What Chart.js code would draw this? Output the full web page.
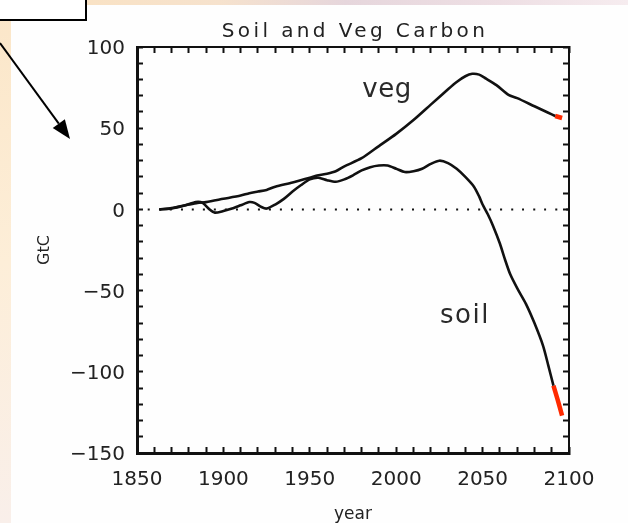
<!DOCTYPE html>
<html>
<head>
<meta charset="utf-8">
<script src="https://cdn.jsdelivr.net/npm/chart.js@4/dist/chart.umd.min.js"></script>
<style>
  html, body { margin: 0; padding: 0; background: #fefefe; }
  #wrap { width: 628px; height: 523px; position: relative; overflow: hidden; }
  canvas { display: block; }
</style>
</head>
<body>
<div id="wrap"><canvas id="c" width="628" height="523"></canvas></div>
<script>
// Cumulative carbon change (GtC) relative to pre-industrial
const vegYears  = [1863, 1870, 1880, 1885, 1890, 1900, 1910, 1915, 1920, 1925, 1930, 1940, 1950, 1955, 1960,
                   1965, 1970, 1980, 1990, 2000, 2010, 2020, 2030, 2035, 2040, 2044, 2048, 2052, 2058, 2065,
                   2070, 2080, 2088, 2092];
const vegValues = [0, 0.8, 3, 4, 4.5, 6.5, 8.5, 10, 11, 12, 14, 16.5, 19.5, 21, 22,
                   23.5, 26.5, 31.5, 39, 46.5, 55, 64.5, 74, 78.5, 82, 83.5, 83, 80.5, 76.5, 70.5,
                   68.5, 63.5, 59.5, 57.5];
const vegTailYears  = [2092, 2096];
const vegTailValues = [57.5, 56.3];

const soilYears  = [1863, 1870, 1878, 1884, 1888, 1892, 1895, 1900, 1905, 1910, 1915, 1918, 1922, 1925, 1930,
                    1935, 1940, 1945, 1950, 1955, 1960, 1965, 1970, 1975, 1980, 1985, 1990, 1995, 2000, 2005,
                    2010, 2015, 2020, 2025, 2030, 2035, 2040, 2045, 2048, 2050, 2053, 2056, 2060, 2063, 2066,
                    2070, 2075, 2080, 2085, 2088, 2091];
const soilValues = [0, 0.5, 2.5, 4.5, 4, 0, -2, -1, 0.5, 2.5, 4.5, 4, 1.5, 0.5, 3,
                    6.5, 11, 15, 18.5, 19.5, 18, 17, 18.5, 21, 24, 26, 27, 27, 25, 23,
                    23.5, 25, 28, 30, 28.5, 25, 20, 14, 8, 3, -3, -10, -21, -31, -40,
                    -48.5, -58, -70, -84, -96, -108.5];
const soilTailYears  = [2091, 2093.5, 2096];
const soilTailValues = [-108.5, -117.5, -127];

const zeroYears  = [1850, 2100];
const zeroValues = [0, 0];

const yearLabels = [1850, 1900, 1950, 2000, 2050, 2100];
const gtcLabels  = [-150, -100, -50, 0, 50, 100];

const titleText = 'Soil and Veg Carbon';
const vegLabel  = { text: 'veg',  year: 1994.7, value: 73.6 };
const soilLabel = { text: 'soil', year: 2039.8, value: -66 };

const pts = (xs, ys) => xs.map((x, i) => ({ x, y: ys[i] }));
const INK = '#111';
const RED = '#ff2a00';
const FONT = '"DejaVu Sans", "Liberation Sans", sans-serif';

const decor = {
  id: 'decor',
  beforeDraw(chart) {
    const ctx = chart.ctx;
    ctx.save();
    ctx.fillStyle = '#fefefe';
    ctx.fillRect(0, 0, 628, 523);
    // warm strip along the left edge
    let g = ctx.createLinearGradient(0, 0, 0, 523);
    g.addColorStop(0, '#fbe6c8');
    g.addColorStop(0.5, '#fdeed8');
    g.addColorStop(1, '#f9efea');
    ctx.fillStyle = g;
    ctx.fillRect(0, 0, 11, 523);
    // tinted strip along the top edge
    g = ctx.createLinearGradient(0, 0, 628, 0);
    g.addColorStop(0, '#fbe2bf');
    g.addColorStop(0.35, '#f6e2cd');
    g.addColorStop(0.55, '#e6d6dc');
    g.addColorStop(0.8, '#eedfe4');
    g.addColorStop(1, '#f6ecef');
    ctx.fillStyle = g;
    ctx.fillRect(0, 0, 628, 5);
    ctx.restore();
  },
  afterDraw(chart) {
    const ctx = chart.ctx;
    const { x, y } = chart.scales;
    const area = chart.chartArea;
    ctx.save();
    // title
    ctx.fillStyle = '#222';
    ctx.font = '20px ' + FONT;
    ctx.textAlign = 'center';
    ctx.textBaseline = 'middle';
    ctx.letterSpacing = '3.4px';
    ctx.fillText(titleText, (area.left + area.right) / 2 + 2, 32);
    // curve labels
    ctx.fillStyle = '#2a2a2a';
    ctx.font = '26px ' + FONT;
    ctx.letterSpacing = '0.5px';
    ctx.fillText(vegLabel.text, x.getPixelForValue(vegLabel.year), y.getPixelForValue(vegLabel.value));
    ctx.letterSpacing = '1.5px';
    ctx.fillText(soilLabel.text, x.getPixelForValue(soilLabel.year), y.getPixelForValue(soilLabel.value));
    ctx.letterSpacing = '0px';
    // callout box in the corner
    ctx.fillStyle = '#ffffff';
    ctx.fillRect(-2, -2, 88, 22);
    ctx.strokeStyle = '#000';
    ctx.lineWidth = 2;
    ctx.strokeRect(-2, -2, 88, 22);
    // pointer arrow
    const x0 = 0, y0 = 43, x1 = 70, y1 = 139;
    const ang = Math.atan2(y1 - y0, x1 - x0);
    const hl = 19, hw = 7.5;
    const bx = x1 - hl * Math.cos(ang), by = y1 - hl * Math.sin(ang);
    ctx.beginPath();
    ctx.moveTo(x0, y0);
    ctx.lineTo(bx, by);
    ctx.lineWidth = 2;
    ctx.stroke();
    ctx.beginPath();
    ctx.moveTo(x1, y1);
    ctx.lineTo(bx + hw * Math.sin(ang), by - hw * Math.cos(ang));
    ctx.lineTo(bx - hw * Math.sin(ang), by + hw * Math.cos(ang));
    ctx.closePath();
    ctx.fillStyle = '#000';
    ctx.fill();
    ctx.restore();
  }
};

const tickFont = { family: FONT, size: 20 };
const yearLabel = v => (yearLabels.includes(v) ? String(v) : '');
const gtcLabel = v => (gtcLabels.includes(v) ? (v < 0 ? '\u2212' + Math.abs(v) : String(v)) : '');

new Chart(document.getElementById('c'), {
  type: 'line',
  data: {
    datasets: [
      { data: pts(zeroYears, zeroValues), borderColor: INK, borderWidth: 2, borderDash: [2, 9] },
      { data: pts(vegYears, vegValues), borderColor: INK, borderWidth: 2.6 },
      { data: pts(soilYears, soilValues), borderColor: INK, borderWidth: 2.6 },
      { data: pts(vegTailYears, vegTailValues), borderColor: RED, borderWidth: 4.5 },
      { data: pts(soilTailYears, soilTailValues), borderColor: RED, borderWidth: 4.5 }
    ]
  },
  options: {
    responsive: false,
    animation: false,
    devicePixelRatio: 1,
    layout: { padding: { left: 0, right: 59, top: 47, bottom: 0 } },
    elements: { point: { radius: 0 }, line: { tension: 0.25, borderCapStyle: 'butt' } },
    plugins: { legend: { display: false }, tooltip: { enabled: false }, title: { display: false } },
    scales: {
      x: {
        type: 'linear', position: 'bottom', min: 1850, max: 2100,
        ticks: { stepSize: 10, autoSkip: false, maxRotation: 0, callback: yearLabel,
                 font: tickFont, color: '#222', padding: 21 },
        grid: { drawOnChartArea: false, tickLength: -6, tickWidth: 2, tickColor: INK },
        border: { display: true, color: INK, width: 3 },
        title: { display: true, text: 'year', color: '#222', font: { family: FONT, size: 17, lineHeight: 1 },
                 padding: { top: 0, bottom: 0 } },
        afterFit: s => { s.height = 70; }
      },
      x2: {
        type: 'linear', axis: 'x', position: 'top', min: 1850, max: 2100,
        ticks: { display: false, stepSize: 10, autoSkip: false },
        grid: { drawOnChartArea: false, tickLength: -6, tickWidth: 2, tickColor: INK },
        border: { display: true, color: INK, width: 2 },
        afterFit: s => { s.height = 0; }
      },
      y: {
        type: 'linear', position: 'left', min: -150, max: 100,
        ticks: { stepSize: 10, autoSkip: false, callback: gtcLabel, font: tickFont, color: '#222',
                 padding: 18, labelOffset: 2 },
        grid: { drawOnChartArea: false, tickLength: -6, tickWidth: 2, tickColor: INK },
        border: { display: true, color: INK, width: 3 },
        title: { display: true, text: 'GtC', color: '#222', font: { family: FONT, size: 16, lineHeight: 1 },
                 padding: { top: 37, bottom: 0 } },
        afterFit: s => { s.width = 137; }
      },
      y2: {
        type: 'linear', axis: 'y', position: 'right', min: -150, max: 100,
        ticks: { display: false, stepSize: 10, autoSkip: false },
        grid: { drawOnChartArea: false, tickLength: -6, tickWidth: 2, tickColor: INK },
        border: { display: true, color: INK, width: 2 },
        afterFit: s => { s.width = 0; }
      }
    }
  },
  plugins: [decor]
});
</script>
</body>
</html>
